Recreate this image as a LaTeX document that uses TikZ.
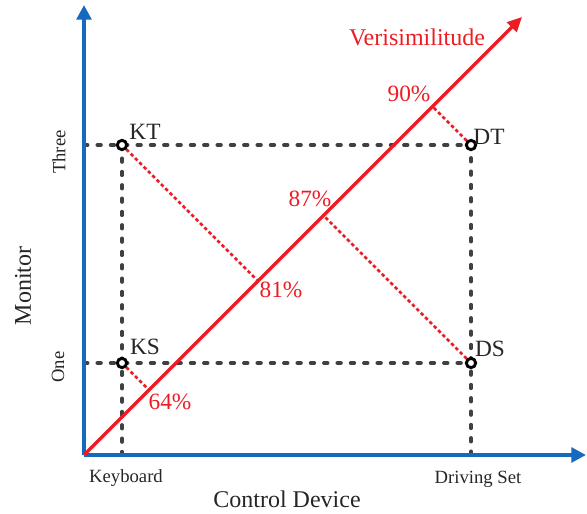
\documentclass[tikz,border=0pt]{standalone}
\usepackage{fontspec}
\setmainfont{Liberation Serif}
\usetikzlibrary{arrows.meta,calc}
\definecolor{axisblue}{RGB}{21,105,190}
\definecolor{verired}{RGB}{237,28,36}
\definecolor{guidegray}{RGB}{64,64,64}
\tikzset{
	axisarrow/.style={axisblue,line width=3.2pt,-{Triangle[length=11pt,width=11pt]}},
	veriline/.style={verired,line width=2.6pt,-{Triangle[length=11pt,width=10pt]}},
	guide/.style={guidegray,line width=2.8pt,dash pattern=on 2.7pt off 7.3pt,line cap=round},
	projline/.style={verired,line width=2pt,dash pattern=on 2.6pt off 2pt},
	ptmark/.style={circle,draw=black,fill=white,line width=2.2pt,inner sep=0pt,minimum size=7pt},
	pct/.style={verired,font=\fontsize{17.5}{20}\selectfont},
	lbl/.style={black!85,font=\fontsize{17.5}{20}\selectfont},
	ticklbl/.style={black!85,font=\fontsize{14}{16}\selectfont},
}
\begin{document}
\begin{tikzpicture}[x=0.75pt,y=-0.75pt]
	\useasboundingbox (0,0) rectangle (587,514);
	\coordinate (O) at (84,455);
	\coordinate (Ytip) at (84,5);
	\coordinate (Xtip) at (586,455);
	\coordinate (V) at (522,17);
	\coordinate (KT) at (122,145);
	\coordinate (DT) at (471,145);
	\coordinate (KS) at (122,363);
	\coordinate (DS) at (471,363);
	\coordinate (Kb) at (KT |- O);
	\coordinate (Dr) at (DT |- O);
	\coordinate (Th) at (O |- KT);
	\coordinate (On) at (O |- KS);
	\draw[guide] (Th) -- (DT) -- (Dr);
	\draw[guide] (On) -- (DS);
	\draw[guide] (KT) -- (Kb);
	\draw[projline] (KT) -- ($(O)!(KT)!(V)$) coordinate (fKT);
	\draw[projline] (DT) -- ($(O)!(DT)!(V)$) coordinate (fDT);
	\draw[projline] (KS) -- ($(O)!(KS)!(V)$) coordinate (fKS);
	\draw[projline] (DS) -- ($(O)!(DS)!(V)$) coordinate (fDS);
	\draw[axisarrow] (O) -- (Ytip);
	\draw[axisarrow] (O) -- (Xtip);
	\draw[veriline] (O) -- (V);
	\node[ptmark] (kt) at (KT) {};
	\node[ptmark] (dt) at (DT) {};
	\node[ptmark] (ks) at (KS) {};
	\node[ptmark] (ds) at (DS) {};
	\node[lbl] (kt-lbl) at (145,132) {KT};
	\node[lbl] (dt-lbl) at (489,137) {DT};
	\node[lbl] (ks-lbl) at (145,347) {KS};
	\node[lbl] (ds-lbl) at (490,349) {DS};
	\node[pct] (p90) at (409,94) {90\%};
	\node[pct] (p87) at (310,199) {87\%};
	\node[pct] (p81) at (281,290) {81\%};
	\node[pct] (p64) at (170,402) {64\%};
	\node[pct,font=\fontsize{18}{20}\selectfont] (veri) at (417,37) {Verisimilitude};
	\node[ticklbl] (kb-lbl) at (126,478) {Keyboard};
	\node[ticklbl] (dr-lbl) at (478,479) {Driving Set};
	\node[ticklbl,rotate=90] (th-lbl) at (59,152) {Three};
	\node[ticklbl,rotate=90] (on-lbl) at (58,367) {One};
	\node[lbl,font=\fontsize{18}{20}\selectfont] (xlbl) at (287,499) {Control Device};
	\node[lbl,font=\fontsize{18}{20}\selectfont,rotate=90] (ylbl) at (23,286) {Monitor};
\end{tikzpicture}
\end{document}
